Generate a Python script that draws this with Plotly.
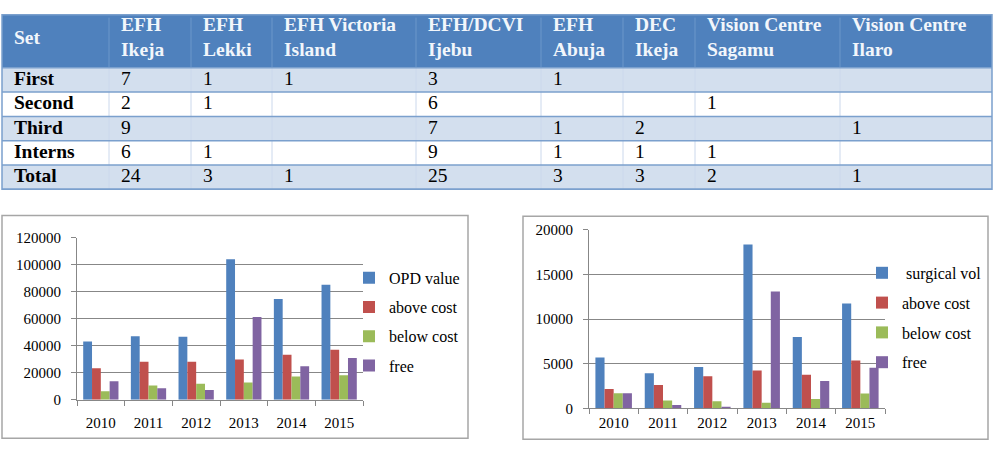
import plotly.graph_objects as go

W, H = 999, 452

# ---------------- table data ----------------
set_header = "Set"
set_names = ["First", "Second", "Third", "Interns", "Total"]
centre_headers = ["EFH<br>Ikeja", "EFH<br>Lekki", "EFH Victoria<br>Island", "EFH/DCVI<br>Ijebu",
                  "EFH<br>Abuja", "DEC<br>Ikeja", "Vision Centre<br>Sagamu", "Vision Centre<br>Ilaro"]
efh_ikeja = [7, 2, 9, 6, 24]
efh_lekki = [1, 1, "", 1, 3]
efh_victoria = [1, "", "", "", 1]
efh_dcvi_ijebu = [3, 6, 7, 9, 25]
efh_abuja = [1, "", 1, 1, 3]
dec_ikeja = ["", "", 2, 1, 3]
vc_sagamu = ["", 1, "", 1, 2]
vc_ilaro = ["", "", 1, "", 1]

# ---------------- chart data ----------------
years = ["2010", "2011", "2012", "2013", "2014", "2015"]
opd_value = [43000, 47000, 46500, 104000, 74500, 85000]
opd_above = [23200, 28000, 28000, 29800, 33200, 36900]
opd_below = [6300, 10500, 11800, 12700, 17200, 18000]
opd_free = [13600, 8500, 7100, 61200, 24800, 30900]

surg_vol = [5700, 3930, 4620, 18350, 8000, 11750]
surg_above = [2170, 2600, 3580, 4250, 3750, 5370]
surg_below = [1700, 870, 780, 620, 1050, 1650]
surg_free = [1700, 360, 60, 13100, 3060, 4540]

COLORS = ["#4F81BD", "#C0504D", "#9BBB59", "#8064A2"]
SERIF = "Liberation Serif"
GRID = "#878787"
TFONT = 19.5

fig = go.Figure()

# ---------------- table (drawn with shapes + annotations) ----------------
col_widths = [107, 82, 81, 144, 125, 82, 72, 145, 152]   # layout (px)
tbl_left, tbl_top, head_h, row_h = 2, 7, 55, 25.2          # layout (px)
col_x = [tbl_left]
for w in col_widths:
    col_x.append(col_x[-1] + w)
tbl_right = col_x[-1]
row_y = [tbl_top + head_h + i * row_h for i in range(len(set_names) + 1)]


def px(x):
    return x / W


def py(y):
    return 1 - y / H


shapes = []
annotations = []
shapes.append(dict(type="rect", xref="paper", yref="paper", x0=px(tbl_left), x1=px(tbl_right),
                   y0=py(row_y[0]), y1=py(tbl_top), fillcolor="#4F81BD", line=dict(width=0), layer="below"))
row_fill = ["#D3DFEE", "#FFFFFF", "#D3DFEE", "#FFFFFF", "#D3DFEE"]
for i in range(len(set_names)):
    shapes.append(dict(type="rect", xref="paper", yref="paper", x0=px(tbl_left), x1=px(tbl_right),
                       y0=py(row_y[i + 1]), y1=py(row_y[i]), fillcolor=row_fill[i], line=dict(width=0),
                       layer="below"))
for j, x in enumerate(col_x[1:-1]):
    shapes.append(dict(type="line", xref="paper", yref="paper", x0=px(x), x1=px(x),
                       y0=py(row_y[0]), y1=py(tbl_top + 3), line=dict(color="#6D97CA", width=1)))
    shapes.append(dict(type="line", xref="paper", yref="paper", x0=px(x), x1=px(x),
                       y0=py(row_y[-1]), y1=py(row_y[0]), line=dict(color="#CBD8EC", width=1)))
for y in row_y:
    shapes.append(dict(type="line", xref="paper", yref="paper", x0=px(tbl_left), x1=px(tbl_right),
                       y0=py(y), y1=py(y), line=dict(color="#7BA0CD", width=1.5)))
shapes.append(dict(type="rect", xref="paper", yref="paper", x0=px(tbl_left), x1=px(tbl_right),
                   y0=py(row_y[-1]), y1=py(tbl_top), line=dict(color="#7BA0CD", width=1.5)))

cols = [efh_ikeja, efh_lekki, efh_victoria, efh_dcvi_ijebu, efh_abuja, dec_ikeja, vc_sagamu, vc_ilaro]
headers = [set_header] + centre_headers
pad = 10
for j, h in enumerate(headers):
    annotations.append(dict(xref="paper", yref="paper", x=px(col_x[j] + pad), y=py(tbl_top + head_h / 2 - 4),
                            xanchor="left", yanchor="middle", align="left", showarrow=False,
                            text="<b>%s</b>" % h, font=dict(family=SERIF, size=TFONT, color="#F2F6FB")))
for i, s in enumerate(set_names):
    yc = py((row_y[i] + row_y[i + 1]) / 2 - 1.5)
    annotations.append(dict(xref="paper", yref="paper", x=px(col_x[0] + pad), y=yc, xanchor="left",
                            yanchor="middle", showarrow=False, text="<b>%s</b>" % s,
                            font=dict(family=SERIF, size=TFONT, color="#000000")))
    for j, c in enumerate(cols):
        if c[i] == "":
            continue
        annotations.append(dict(xref="paper", yref="paper", x=px(col_x[j + 1] + pad), y=yc, xanchor="left",
                                yanchor="middle", showarrow=False, text=str(c[i]),
                                font=dict(family=SERIF, size=TFONT, color="#000000")))

# ---------------- charts ----------------
names_left = ["OPD value", "above cost", "below cost", "free"]
names_right = [" surgical vol", "above cost", "below cost", "free"]
left_series = [opd_value, opd_above, opd_below, opd_free]
right_series = [surg_vol, surg_above, surg_below, surg_free]

for i, (nm, ser) in enumerate(zip(names_left, left_series)):
    fig.add_trace(go.Bar(x=years, y=ser, name=nm, marker=dict(color=COLORS[i], line=dict(width=0)),
                         xaxis="x", yaxis="y", legend="legend", legendgroup="l%d" % i))
for i, (nm, ser) in enumerate(zip(names_right, right_series)):
    fig.add_trace(go.Bar(x=years, y=ser, name=nm, marker=dict(color=COLORS[i], line=dict(width=0)),
                         xaxis="x2", yaxis="y2", legend="legend2", legendgroup="r%d" % i))

axis_common = dict(showline=True, linecolor=GRID, linewidth=1, ticks="outside", ticklen=5,
                   tickcolor=GRID, tickfont=dict(family=SERIF, size=15, color="#000000"))

shapes += [
    dict(type="rect", xref="paper", yref="paper", x0=px(2), x1=px(468), y0=py(446), y1=py(215),
         line=dict(color="#A6A6A6", width=1.5)),
    dict(type="rect", xref="paper", yref="paper", x0=px(523), x1=px(988), y0=py(447), y1=py(216),
         line=dict(color="#A6A6A6", width=1.5)),
]

fig.update_layout(
    width=W, height=H,
    margin=dict(l=0, r=0, t=0, b=0),
    paper_bgcolor="white", plot_bgcolor="white",
    barmode="group", bargap=0.26, bargroupgap=0,
    xaxis=dict(domain=[px(77), px(363)], anchor="y", type="category", tickson="boundaries",
               showgrid=False, ticklabelstandoff=9, **axis_common),
    yaxis=dict(domain=[py(406), py(238)], anchor="x", range=[0, 120000], dtick=20000, tickformat="d",
               showgrid=True, gridcolor=GRID, gridwidth=1, zeroline=False, ticklabelstandoff=7,
               **axis_common),
    xaxis2=dict(domain=[px(589), px(885)], anchor="y2", type="category", tickson="boundaries",
                showgrid=False, ticklabelstandoff=1, **axis_common),
    yaxis2=dict(domain=[py(415), py(230)], anchor="x2", range=[0, 20000], dtick=5000, tickformat="d",
                showgrid=True, gridcolor=GRID, gridwidth=1, zeroline=False, ticklabelstandoff=7,
                **axis_common),
    legend=dict(x=px(349), y=py(262), xanchor="left", yanchor="top", traceorder="grouped",
                tracegroupgap=5.5, font=dict(family=SERIF, size=16, color="#000000"),
                bgcolor="rgba(0,0,0,0)"),
    legend2=dict(x=px(862), y=py(257), xanchor="left", yanchor="top", traceorder="grouped",
                 tracegroupgap=6, font=dict(family=SERIF, size=16, color="#000000"),
                 bgcolor="rgba(0,0,0,0)"),
    showlegend=True,
    shapes=shapes,
    annotations=annotations,
)

fig.write_html("out.html")
